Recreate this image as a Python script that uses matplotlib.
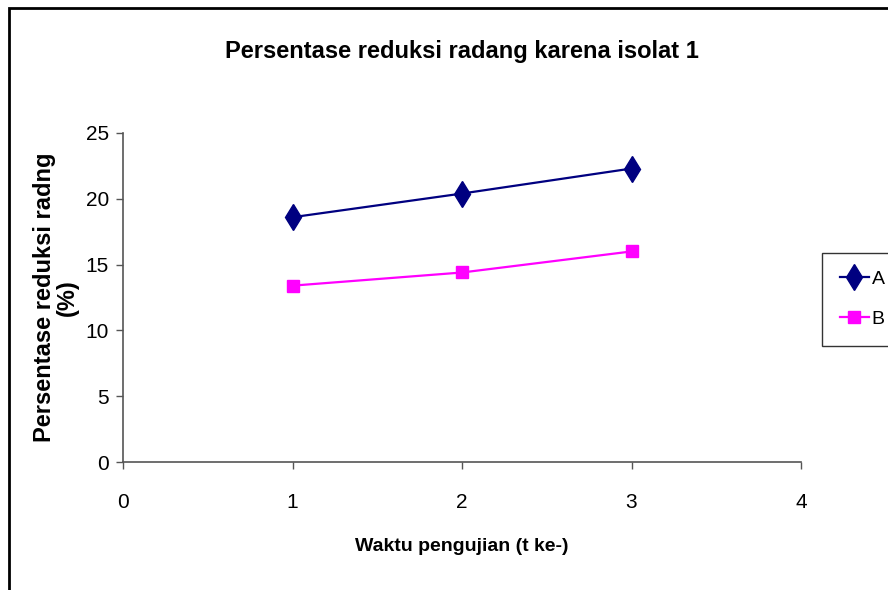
import matplotlib
matplotlib.use('Agg')
import matplotlib.pyplot as plt
from matplotlib.patches import Rectangle

# data
waktu = [1, 2, 3]
seri_a = [18.6, 20.4, 22.3]
seri_b = [13.4, 14.4, 16.0]
x_ticks = [0, 1, 2, 3, 4]
y_ticks = [0, 5, 10, 15, 20, 25]

FONT = ['Liberation Sans', 'DejaVu Sans']

fig = plt.figure(figsize=(8.88, 5.90), dpi=100)
ax = fig.add_axes([123 / 888, 1 - 462 / 590, (801 - 123) / 888, (462 - 133) / 590])

# frame around the chart area (cut off on right and bottom)
fig.patches.append(Rectangle((9 / 888, -0.2), 1.5, 1.2 - 8 / 590,
                             transform=fig.transFigure, fill=False,
                             edgecolor='black', linewidth=2))

ax.plot(waktu, seri_a, color='#000080', marker='d', markersize=13,
        linewidth=1.6, label='A')
ax.plot(waktu, seri_b, color='#FF00FF', marker='s', markersize=9,
        linewidth=1.6, label='B')

ax.set_xlim(0, 4)
ax.set_ylim(0, 25)
ax.set_xticks(x_ticks)
ax.set_yticks(y_ticks)
for s in ['top', 'right']:
    ax.spines[s].set_visible(False)
for s in ['left', 'bottom']:
    ax.spines[s].set_color('#555555')
    ax.spines[s].set_linewidth(1.2)
ax.tick_params(direction='out', length=5, width=1, color='#555555',
               labelsize=15, pad=17)
ax.tick_params(axis='y', pad=5)
for lab in ax.get_xticklabels() + ax.get_yticklabels():
    lab.set_family(FONT)

ax.set_title('Persentase reduksi radang karena isolat 1', family=FONT,
             fontsize=17, fontweight='bold', pad=54)
ax.set_xlabel('Waktu pengujian (t ke-)', family=FONT, fontsize=14,
              fontweight='bold', labelpad=19)
ax.set_ylabel('Persentase reduksi radng\n(%)', family=FONT, fontsize=17,
              fontweight='bold', labelpad=5, linespacing=1.0)

leg = fig.legend(loc='upper left', bbox_to_anchor=(822 / 888, 1 - 253 / 590),
                 borderaxespad=0, frameon=True, fancybox=False,
                 edgecolor='black', prop={'family': FONT, 'size': 14},
                 handlelength=1.5, borderpad=0.9, labelspacing=1.15,
                 handletextpad=0.15)
leg.get_frame().set_linewidth(1)

fig.savefig('out.png', dpi=100)
